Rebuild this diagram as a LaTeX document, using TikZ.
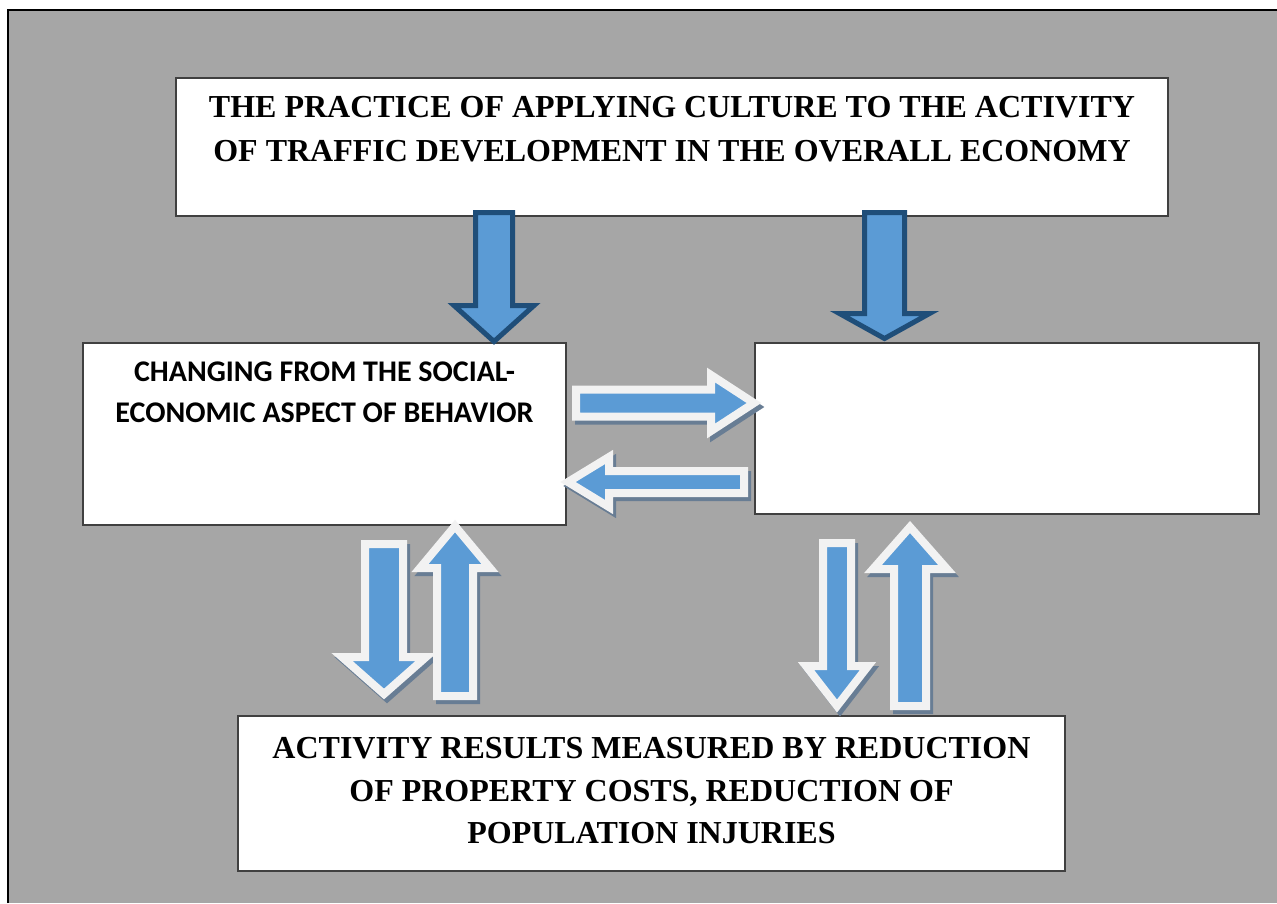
\documentclass[tikz,border=0pt]{standalone}
\usepackage{fontspec}
\setmainfont{Liberation Serif}
\newfontfamily\carlito{Carlito}
\usetikzlibrary{positioning}
\definecolor{panelgray}{HTML}{A6A6A6}
\definecolor{arrowblue}{HTML}{5B9BD5}
\definecolor{arrowdark}{HTML}{1F4E79}
\definecolor{arrowrim}{HTML}{F2F2F2}
\definecolor{arrowshade}{HTML}{687D94}

% block arrow: [style]{tail}{angle}{length}{shaft half}{head half}{head length}
\newcommand{\blockarrow}[7][]{%
  \draw[#1, shift={#2}, rotate=#3] (0,-#5) -- ({#4-#7},-#5) -- ({#4-#7},-#6)
    -- (#4,0) -- ({#4-#7},#6) -- ({#4-#7},#5) -- (0,#5) -- cycle;}

\tikzset{
  box/.style={draw=black!75, line width=1.5pt, fill=white, inner sep=0pt},
  bigtext/.style={inner sep=0pt, align=center, font=\bfseries\fontsize{32}{44}\selectfont},
  smalltext/.style={inner sep=0pt, align=center, font=\carlito\bfseries\fontsize{30}{41}\selectfont},
  darkarrow/.style={fill=arrowblue, draw=arrowdark, line width=5pt},
  rimarrow/.style={fill=arrowblue, draw=arrowrim, line width=8pt},
  rimshade/.style={fill=arrowshade, draw=arrowshade, line width=8pt, xshift=3pt, yshift=-4pt}
}

\begin{document}
\begin{tikzpicture}[x=1pt, y=-1pt]
    \useasboundingbox (0,0) rectangle (1277,903);
    % Panel
    \fill[panelgray] (8,10) rectangle (1277,903);
    \draw[line width=2.5pt] (8,903) -- (8,10) -- (1277,10);

    % Boxes
    \node[box, minimum width=992pt, minimum height=138pt] (practice) at (672,147) {};
    \node[box, minimum width=483pt, minimum height=182pt] (changing) at (324.5,434) {};
    \node[box, minimum width=504pt, minimum height=171pt] (effect) at (1007,428.5) {};
    \node[box, minimum width=827pt, minimum height=155pt] (results) at (651.5,793.5) {};

    % Texts
    \node[bigtext, below=18.5pt of practice.north] (practiceText)
        {THE PRACTICE OF APPLYING CULTURE TO THE ACTIVITY\\
         OF TRAFFIC DEVELOPMENT IN THE OVERALL ECONOMY};
    \node[smalltext, below=19pt of changing.north] (changingText)
        {CHANGING FROM THE SOCIAL-\\ ECONOMIC ASPECT OF BEHAVIOR};
    \node[bigtext, font=\bfseries\fontsize{32}{42.5}\selectfont,
          below=22pt of results.north] (resultsText)
        {ACTIVITY RESULTS MEASURED BY REDUCTION\\
         OF PROPERTY COSTS, REDUCTION OF\\ POPULATION INJURIES};

    % Arrows from the top box
    \blockarrow[darkarrow]{(494,212.5)}{-90}{129}{18.5}{40}{36}
    \blockarrow[darkarrow]{(884.5,212.5)}{-90}{126}{20}{45}{25}

    % Arrows between the boxes
    \foreach \tx/\ty/\ang/\len/\sh/\hh/\hl in {576/403/0/178/13.5/28/43,
        744/482/180/176/11/25/41, 384/544/-90/150/19/42/37,
        455/696/90/170/18/35/42, 837/543/-90/163/14/31/40,
        910/706/90/179/16/37/42} {
        \blockarrow[rimshade]{(\tx,\ty)}{\ang}{\len}{\sh}{\hh}{\hl}
        \blockarrow[rimarrow]{(\tx,\ty)}{\ang}{\len}{\sh}{\hh}{\hl}
    }
\end{tikzpicture}
\end{document}
